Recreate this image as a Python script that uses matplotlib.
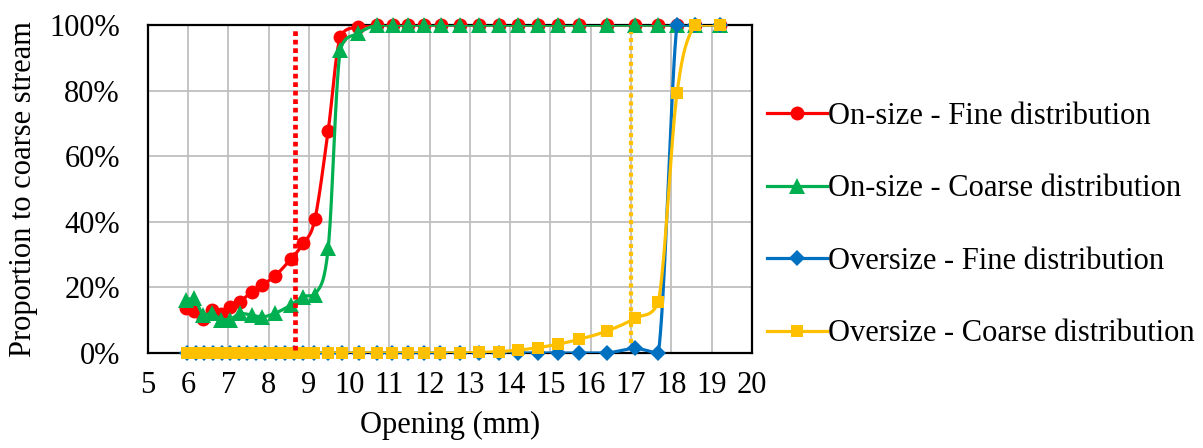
import numpy as np
import matplotlib.pyplot as plt
from matplotlib.lines import Line2D
from matplotlib.ticker import PercentFormatter

# opening (mm) for the on-size series
x_on = [5.95, 6.15, 6.38, 6.60, 6.82, 7.04, 7.29, 7.58, 7.84, 8.16, 8.55, 8.86,
        9.15, 9.48, 9.78, 10.23, 10.69, 11.08, 11.46, 11.85, 12.28, 12.76, 13.23,
        13.71, 14.19, 14.68, 15.18, 15.72, 16.40, 17.10, 17.68, 18.14, 18.59, 19.21]
on_fine = [13.6, 12.8, 10.5, 13.1, 11.8, 14.1, 15.6, 18.7, 20.7, 23.5, 28.6, 33.4,
           40.8, 67.8, 96.4, 99.5, 100, 100, 100, 100, 100, 100, 100,
           100, 100, 100, 100, 100, 100, 100, 100, 100, 100, 100]
on_coarse = [16.2, 16.7, 11.6, 12.1, 10.2, 10.2, 12.1, 11.6, 11.0, 12.1, 14.6, 17.2,
             17.7, 31.9, 92.4, 97.5, 100, 100, 100, 100, 100, 100, 100,
             100, 100, 100, 100, 100, 100, 100, 100, 100, 100, 100]

# opening (mm) for the oversize series
x_over = [5.97, 6.19, 6.40, 6.61, 6.84, 7.04, 7.27, 7.47, 7.69, 7.90, 8.19, 8.41,
          8.63, 8.86, 9.13, 9.48, 9.82, 10.25, 10.70, 11.07, 11.45, 11.86, 12.26,
          12.76, 13.23, 13.71, 14.19, 14.68, 15.18, 15.72, 16.40, 17.10, 17.68,
          18.14, 18.59, 19.21]
over_fine = [0] * 31 + [1.4, 0, 100, 100, 100]
over_coarse = [0] * 24 + [0.2, 0.4, 0.9, 1.6, 2.7, 4.2, 6.7, 10.6, 15.6, 79.2, 100, 100]

cut_fine = 8.66
cut_coarse = 17.0

labels = ["On-size - Fine distribution", "On-size - Coarse distribution",
          "Oversize - Fine distribution", "Oversize - Coarse distribution"]
colors = ["#FF0000", "#00B050", "#0070C0", "#FFC000"]
markers = ["o", "^", "D", "s"]
msizes = [10, 11, 8.5, 8.5]


def smooth(x, y, n=20):
    # bezier through the points, control points kept inside each segment's range
    p = np.column_stack([x, y]).astype(float)
    p = np.vstack([p[0], p, p[-1]])
    out = []
    t = np.linspace(0, 1, n)[:, None]
    for i in range(1, len(p) - 2):
        p0, p1, p2, p3 = p[i - 1], p[i], p[i + 1], p[i + 2]
        c1 = p1 + (p2 - p0) / 6
        c2 = p2 - (p3 - p1) / 6
        lo, hi = min(p1[1], p2[1]), max(p1[1], p2[1])
        c1[1] = np.clip(c1[1], lo, hi)
        c2[1] = np.clip(c2[1], lo, hi)
        seg = ((1 - t) ** 3) * p1 + 3 * ((1 - t) ** 2) * t * c1 + 3 * (1 - t) * t ** 2 * c2 + t ** 3 * p2
        out.append(seg)
    out = np.vstack(out)
    return out[:, 0], out[:, 1]


plt.rcParams["font.family"] = ["Liberation Serif", "DejaVu Serif"]

fig = plt.figure(figsize=(12.03, 4.48), dpi=100)
ax = fig.add_axes([0.1228, 0.212, 0.5022, 0.732])

series = [(x_on, on_fine), (x_on, on_coarse), (x_over, over_fine), (x_over, over_coarse)]
for i, (xs, ys) in enumerate(series):
    ys = np.array(ys) / 100
    sx, sy = smooth(xs, ys)
    ax.plot(sx, sy, color=colors[i], lw=2.3, zorder=3 + i, solid_capstyle="round")
    ax.plot(xs, ys, ls="none", marker=markers[i], ms=msizes[i], color=colors[i],
            markeredgewidth=0, zorder=3 + i, clip_on=False)

ax.vlines(cut_fine, 0.01, 0.99, colors=colors[0], lw=3.4, linestyles=(0, (1, 0.8)), zorder=8)
ax.vlines(cut_coarse, 0.03, 0.98, colors=colors[3], lw=3.0, linestyles=(0, (1, 0.9)), zorder=8)

ax.set_xlim(5, 20)
ax.set_ylim(0, 1)
ax.set_xticks(range(5, 21))
ax.set_yticks(np.arange(0, 1.01, 0.2))
ax.yaxis.set_major_formatter(PercentFormatter(1.0, decimals=0))
ax.grid(True, color="#BFBFBF", lw=1.3)
ax.set_axisbelow(True)
ax.tick_params(length=0, labelsize=22)
ax.tick_params(axis="y", pad=20)
ax.tick_params(axis="x", pad=13)
for s in ax.spines.values():
    s.set_linewidth(1.6)
    s.set_color("black")

ax.set_xlabel("Opening (mm)", fontsize=22, labelpad=8)
ax.set_ylabel("Proportion to coarse stream", fontsize=22, labelpad=8)

handles = [Line2D([], [], color=colors[i], lw=2.3, marker=markers[i], ms=msizes[i],
                  markeredgewidth=0) for i in range(4)]
ax.legend(handles, labels, loc="center left", bbox_to_anchor=(1.025, 0.39), frameon=False,
          fontsize=22, handlelength=1.95, handletextpad=0.05, labelspacing=1.42,
          borderaxespad=0, borderpad=0)

fig.savefig("out.png", dpi=100)
